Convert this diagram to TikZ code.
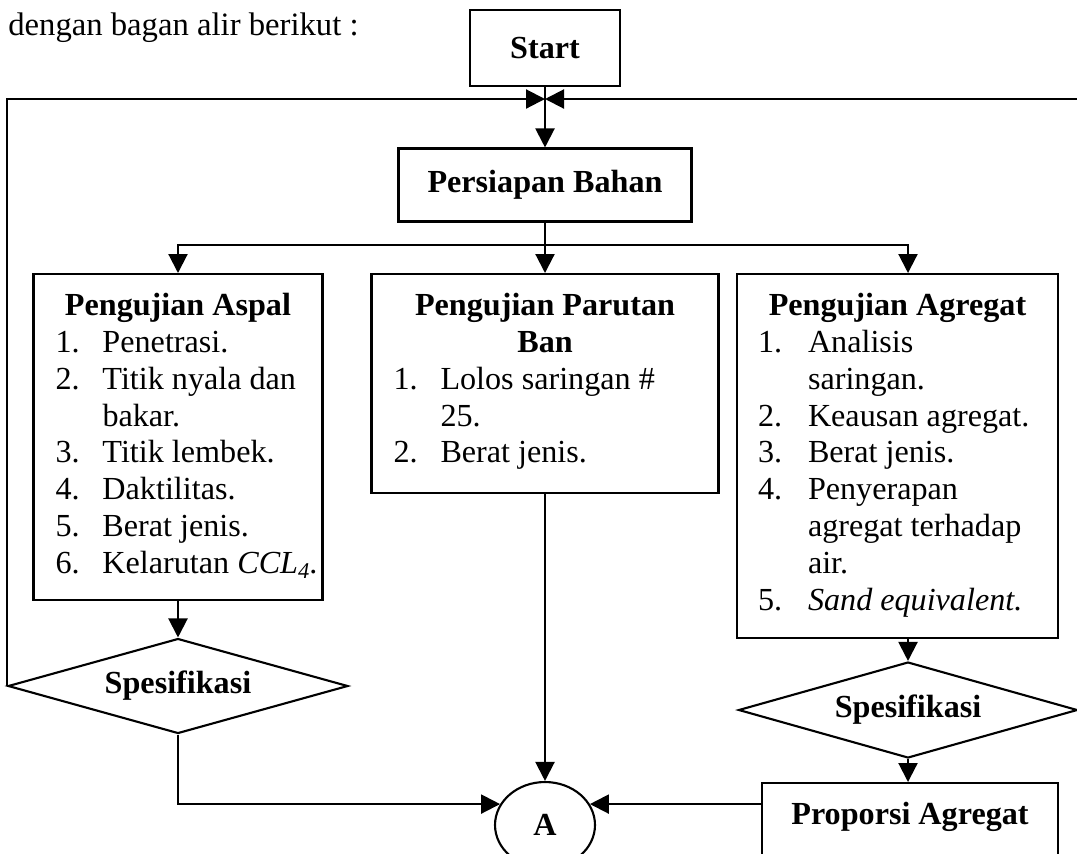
\documentclass[tikz,border=0pt]{standalone}
\usepackage{fontspec}
\setmainfont{Liberation Serif}
\usetikzlibrary{shapes.geometric,arrows.meta}

\newcommand{\chartfont}{\fontsize{18.3}{21}\selectfont}
\tikzset{
	box/.style={draw, line width=1.2pt, inner sep=0pt, font=\chartfont},
	decision/.style={draw, diamond, aspect=3.6, line width=1.2pt, inner sep=0pt, font=\chartfont\bfseries},
	wire/.style={line width=1.2pt},
	flow/.style={line width=1.2pt, -{Triangle[length=0.38cm,width=0.38cm]}}
}

\begin{document}
\begin{tikzpicture}[x=0.02cm, y=-0.02cm]
			\clip (0,0) rectangle (1077,853);
			% Nodes:
			\node[anchor=west, inner sep=0pt, font=\fontsize{18.6}{21}\selectfont] (intro) at (8,28) {dengan bagan alir berikut :};
			\node[box, minimum width=3cm, minimum height=1.52cm, font=\chartfont\bfseries] (start) at (545,48) {Start};
			\node[box, minimum width=5.86cm, minimum height=1.46cm, font=\chartfont\bfseries] (persiapan) at (545,185) {Persiapan Bahan};
			\node[box, anchor=north] (aspal) at (178,273) {\parbox[t][6.52cm][t]{5.78cm}{\vspace*{0.38cm}\centering\textbf{Pengujian Aspal}\par
				\raggedright\hspace*{0.44cm}\begin{tabular}[t]{@{}p{0.94cm}@{}l@{}}
					1. & Penetrasi.\\ 2. & Titik nyala dan\\ & bakar.\\ 3. & Titik lembek.\\
					4. & Daktilitas.\\ 5. & Berat jenis.\\ 6. & Kelarutan \textit{CCL\textsubscript{4}.}
				\end{tabular}}};
			\node[box, anchor=north] (parutan) at (545,273) {\parbox[t][4.38cm][t]{6.94cm}{\vspace*{0.38cm}\centering\textbf{Pengujian Parutan}\\\textbf{Ban}\par
				\raggedright\hspace*{0.44cm}\begin{tabular}[t]{@{}p{0.94cm}@{}l@{}}
					1. & Lolos saringan \#\\ & 25.\\ 2. & Berat jenis.
				\end{tabular}}};
			\node[box, anchor=north] (agregat) at (897.5,273) {\parbox[t][7.28cm][t]{6.42cm}{\vspace*{0.38cm}\centering\textbf{Pengujian Agregat}\par
				\raggedright\hspace*{0.42cm}\begin{tabular}[t]{@{}p{1cm}@{}l@{}}
					1. & Analisis\\ & saringan.\\ 2. & Keausan agregat.\\ 3. & Berat jenis.\\
					4. & Penyerapan\\ & agregat terhadap\\ & air.\\ 5. & \textit{Sand equivalent.}
				\end{tabular}}};
			\node[decision, minimum width=6.8cm, minimum height=1.9cm] (ldia) at (178,686) {Spesifikasi};
			\node[decision, minimum width=6.78cm, minimum height=1.92cm] (rdia) at (908,710) {Spesifikasi};
			\node[box, anchor=north] (proporsi) at (910,782) {\parbox[t][1.8cm][t]{5.92cm}{\vspace*{0.38cm}\centering\textbf{Proporsi Agregat}}};
			\node[draw, ellipse, line width=1.2pt, inner sep=0pt, minimum width=2cm, minimum height=1.72cm, font=\chartfont\bfseries] (A) at (545,825) {A};
			\coordinate (br) at (545,245);
			\coordinate (jn) at (545,99);
			% Connectors:
			\draw[flow] (start) -- (persiapan);
			\draw[wire] (persiapan.south) -- (br);
			\draw[flow] (br) -| (aspal.north);
			\draw[flow] (br) -- (parutan.north);
			\draw[flow] (br) -| (agregat.north -| rdia.north);
			\draw[flow] (aspal.south) -- (ldia.north);
			\draw[flow] (agregat.south -| rdia.north) -- (rdia.north);
			\draw[flow] (rdia.south) -- (proporsi.north -| rdia.south);
			\draw[flow] (parutan.south) -- (A.north);
			\draw[flow] (ldia.south) |- (A.155);
			\draw[flow] (A.25 -| proporsi.west) -- (A.25);
			\draw[flow] (ldia.west) |- (jn);
			\draw[flow] (rdia.east) -- ++(10,0) |- (jn);
		\end{tikzpicture}
\end{document}
